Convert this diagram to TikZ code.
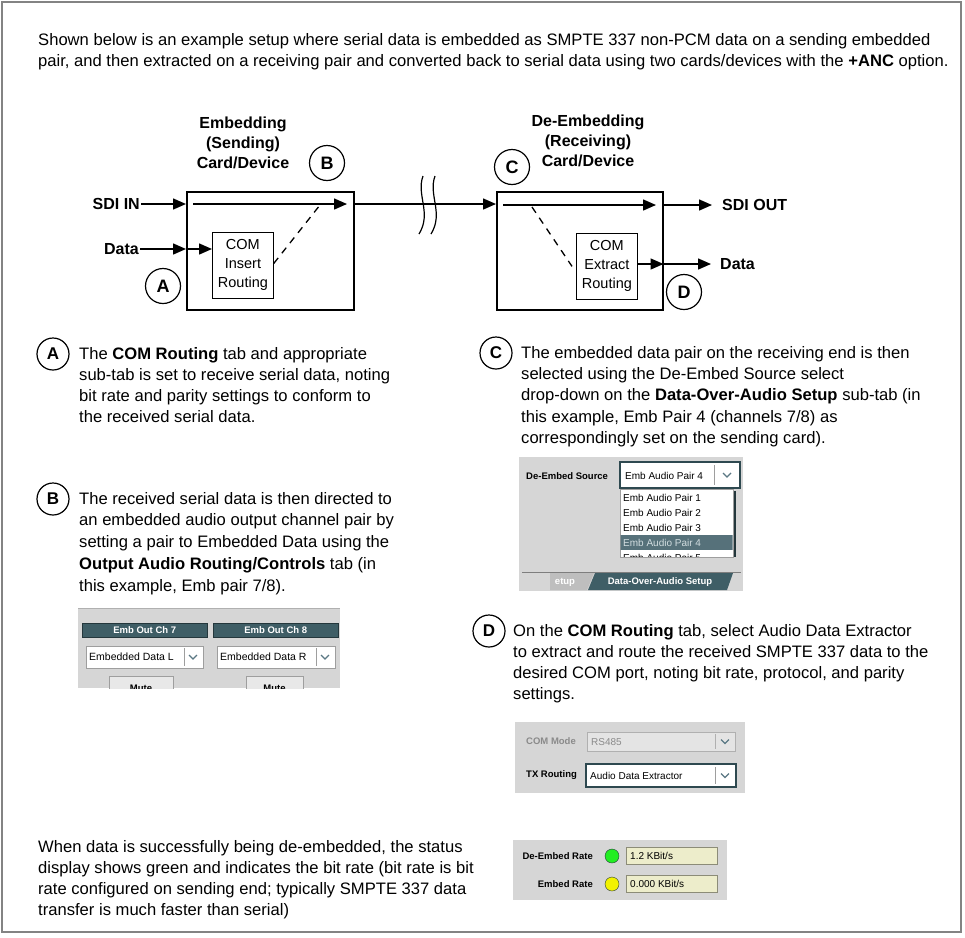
\documentclass[tikz,border=0pt]{standalone}
\usepackage{fontspec}
\setmainfont{Liberation Sans}
\setsansfont{Liberation Sans}
\usetikzlibrary{arrows.meta,positioning}
\definecolor{Ink}{HTML}{000000}
\definecolor{FrameGray}{HTML}{838383}
\definecolor{PanelFill}{HTML}{D6D6D6}
\definecolor{PanelEdge}{HTML}{B0B0B0}
\definecolor{HeadTeal}{HTML}{3F5E66}
\definecolor{HeadEdge}{HTML}{24373C}
\definecolor{FieldEdge}{HTML}{9E9E9E}
\definecolor{FocusEdge}{HTML}{2E4950}
\definecolor{Chevron}{HTML}{5B7884}
\definecolor{PickFill}{HTML}{56717A}
\definecolor{PickText}{HTML}{D2DDE0}
\definecolor{DimText}{HTML}{8A8A8A}
\definecolor{DimFill}{HTML}{E4E4E4}
\definecolor{ButtonFill}{HTML}{E8E8E8}
\definecolor{TabLight}{HTML}{BEBEBE}
\definecolor{TabLine}{HTML}{7E7E7E}
\definecolor{RateFill}{HTML}{EDEDCB}
\definecolor{RateEdge}{HTML}{8C8C78}
\definecolor{LedGreen}{HTML}{22EE22}
\definecolor{LedYellow}{HTML}{F2F200}
\tikzset{
  frame/.style={draw=FrameGray, line width=2pt},
  flow/.style={-{Triangle[length=13pt,width=11pt]}, draw=Ink, line width=1.5pt},
  dashlink/.style={draw=Ink, line width=1.3pt, dash pattern=on 7pt off 6pt},
  breakmark/.style={draw=Ink, line width=1.2pt},
  card/.style={draw=Ink, fill=white, line width=1.5pt, anchor=north west, inner sep=0pt},
  routing/.style={draw=Ink, fill=white, line width=0.8pt, anchor=north west, inner sep=0pt,
    align=center, font=\fontsize{14.5}{19}\selectfont},
  signal/.style={font=\bfseries\fontsize{16}{19}\selectfont, inner sep=1pt},
  cardtitle/.style={font=\bfseries\fontsize{16}{20}\selectfont, align=center, inner sep=0pt},
  marker/.style={circle, draw=Ink, line width=1.2pt, minimum size=35pt, inner sep=0pt,
    font=\bfseries\fontsize{18}{18}\selectfont},
  notemark/.style={marker, minimum size=32pt, font=\bfseries\fontsize{17}{17}\selectfont},
  body/.style={font=\fontsize{16.6}{21}\selectfont, align=left, anchor=north west, inner sep=0pt},
  guitext/.style={font=\fontsize{10}{12}\selectfont, inner sep=0pt, anchor=west},
  guilabel/.style={font=\bfseries\fontsize{9.5}{12}\selectfont, inner sep=0pt},
  header/.style={guilabel, fill=HeadTeal, draw=HeadEdge, text=white, anchor=north west,
    minimum width=125pt, minimum height=14pt},
  field/.style={draw=FieldEdge, fill=white, line width=0.8pt},
  focus/.style={draw=FocusEdge, fill=white, line width=1.5pt},
  chevron/.pic={\draw[Chevron, line width=1.3pt] (-4,-2) -- (0,2) -- (4,-2);},
}

\begin{document}
\begin{tikzpicture}[x=1pt, y=-1pt]
  % Page frame fixes the reference margins.
  \useasboundingbox (0,0) rectangle (965,937);
  \draw[frame] (2,2) rectangle (961,932);

  \node[body] (intro) at (38,33)
    {Shown below is an example setup where serial data is embedded as SMPTE 337 non-PCM data on a sending embedded\\
     pair, and then extracted on a receiving pair and converted back to serial data using two cards/devices with the \textbf{+ANC} option.};

  % Cards, inner routing blocks and their headings.
  \node[card, minimum width=167pt, minimum height=118pt] (sendcard) at (186,191) {};
  \node[card, minimum width=166pt, minimum height=118pt] (recvcard) at (496,191) {};
  \node[routing, minimum width=61pt, minimum height=66pt] (insertbox) at (212,232) {COM\\Insert\\Routing};
  \node[routing, minimum width=61pt, minimum height=66pt] (extractbox) at (576,233) {COM\\Extract\\Routing};
  \node[cardtitle] (sendtitle) at (243,143) {Embedding\\(Sending)\\Card/Device};
  \node[cardtitle] (recvtitle) at (588,141) {De-Embedding\\(Receiving)\\Card/Device};

  \node[signal, anchor=east] (sdiin) at (141,204) {SDI IN};
  \node[signal, anchor=east] (datain) at (140,249) {Data};
  \node[signal, anchor=west] (sdiout) at (721,205) {SDI OUT};
  \node[signal, anchor=west] (dataout) at (719,264) {Data};

  \node[marker] (markA) at (163,286) {A};
  \node[marker] (markB) at (327,163) {B};
  \node[marker] (markC) at (512,167) {C};
  \node[marker] (markD) at (684,292) {D};

  \coordinate (sendpass) at (193,204);
  \coordinate (sendtip) at (347,204);
  \coordinate (sendjoin) at (320,205);
  \coordinate (recvpass) at (503,205);
  \coordinate (recvtip) at (656,205);
  \coordinate (recvsplit) at (532,207);

  % Signal flow.
  \draw[flow] (sdiin.east) -- (sdiin.east -| sendcard.west);
  \draw[flow] (datain.east) -- (datain.east -| sendcard.west);
  \draw[flow] (datain.east -| sendcard.west) -- (insertbox.west |- datain.east);
  \draw[flow] (sendpass) -- (sendtip);
  \draw[dashlink] ([yshift=2pt]insertbox.east) -- (sendjoin);
  \draw[flow] (sendtip -| sendcard.east) -- (sendtip -| recvcard.west);
  \draw[breakmark] (423,176) .. controls (416,195) and (432,213) .. (419,234);
  \draw[breakmark] (435,176) .. controls (428,195) and (444,213) .. (431,234);
  \draw[flow] (recvpass) -- (recvtip);
  \draw[dashlink] (recvsplit) -- ([xshift=-4pt]extractbox.west);
  \draw[flow] (sdiout.west -| recvcard.east) -- ([xshift=-9pt]sdiout.west);
  \draw[flow] (dataout.west -| extractbox.east) -- (dataout.west -| recvcard.east);
  \draw[flow] (dataout.west -| recvcard.east) -- ([xshift=-8pt]dataout.west);

  % Step notes.
  \node[notemark] (noteA) at (53,354) {A};
  \node[body] (textA) at (79,347)
    {The \textbf{COM Routing} tab and appropriate\\sub-tab is set to receive serial data, noting\\
     bit rate and parity settings to conform to\\the received serial data.};
  \node[notemark] (noteB) at (53,499) {B};
  \node[body, font=\fontsize{16.6}{21.7}\selectfont] (textB) at (79,492)
    {The received serial data is then directed to\\an embedded audio output channel pair by\\
     setting a pair to Embedded Data using the\\\textbf{Output Audio Routing/Controls} tab (in\\
     this example, Emb pair 7/8).};
  \node[notemark] (noteC) at (496,353) {C};
  \node[body, font=\fontsize{16.6}{21.3}\selectfont] (textC) at (521,346)
    {The embedded data pair on the receiving end is then\\selected using the De-Embed Source select\\
     drop-down on the \textbf{Data-Over-Audio Setup} sub-tab (in\\this example, Emb Pair 4 (channels 7/8) as\\
     correspondingly set on the sending card).};
  \node[notemark] (noteD) at (489,631) {D};
  \node[body] (textD) at (513,624)
    {On the \textbf{COM Routing} tab, select Audio Data Extractor\\to extract and route the received SMPTE 337 data to the\\
     desired COM port, noting bit rate, protocol, and parity\\settings.};
  \node[body] (textE) at (38,840)
    {When data is successfully being de-embedded, the status\\display shows green and indicates the bit rate (bit rate is bit\\
     rate configured on sending end; typically SMPTE 337 data\\transfer is much faster than serial)};

  % Output audio routing panel.
  \begin{scope}
    \clip (78,607) rectangle (340,688);
    \fill[PanelFill] (78,608) rectangle (340,688);
    \draw[PanelEdge] (78,608.5) -- (340,608.5);
    \node[header] (ch7head) at (82,623) {Emb Out Ch 7};
    \node[header] (ch8head) at (213,623) {Emb Out Ch 8};
    \draw[field] (86,646) rectangle (203,668);
    \draw[FieldEdge] (184,648) -- (184,666);
    \pic at (193,657) {chevron};
    \node[guitext, font=\fontsize{10.5}{12}\selectfont] (ch7pick) at (89,657) {Embedded Data L};
    \draw[field] (217,646) rectangle (335,668);
    \draw[FieldEdge] (316,648) -- (316,666);
    \pic at (325,657) {chevron};
    \node[guitext, font=\fontsize{10.5}{12}\selectfont] (ch8pick) at (220,657) {Embedded Data R};
    \draw[field, fill=ButtonFill] (109,676) rectangle (173,700);
    \node[guilabel] (ch7mute) at (141,688.5) {Mute};
    \draw[field, fill=ButtonFill] (246,676) rectangle (303,700);
    \node[guilabel] (ch8mute) at (274.5,688.5) {Mute};
  \end{scope}

  % De-embed source panel.
  \fill[PanelFill] (519,457) rectangle (743,591);
  \node[guilabel, anchor=west] (srclabel) at (526,476) {De-Embed Source};
  \draw[focus] (620,462) rectangle (740,488);
  \draw[FieldEdge] (714,465) -- (714,485);
  \pic at (727,475) {chevron};
  \node[guitext] (srcpick) at (625,476) {Emb Audio Pair 4};
  \draw[field] (620,489) rectangle (733,557);
  \draw[HeadEdge, line width=1.5pt] (735,491) -- (735,557);
  \begin{scope}
    \clip (620.5,489.5) rectangle (732.5,556.5);
    \fill[PickFill] (620,535) rectangle (733,550);
    \node[guitext] (pair1) at (623,498) {Emb Audio Pair 1};
    \node[guitext] (pair2) at (623,513) {Emb Audio Pair 2};
    \node[guitext] (pair3) at (623,528) {Emb Audio Pair 3};
    \node[guitext, text=PickText] (pair4) at (623,543) {Emb Audio Pair 4};
    \node[guitext] (pair5) at (623,558) {Emb Audio Pair 5};
  \end{scope}
  \draw[TabLine] (522,572) -- (741,572);
  \fill[TabLight] (550,573) -- (594,573) -- (587,590) -- (550,590) -- cycle;
  \node[guilabel, text=white] (tabsetup) at (565,582) {etup};
  \fill[HeadTeal] (595,573) -- (733,573) -- (727,590) -- (588,590) -- cycle;
  \node[guilabel, text=white] (tabdoa) at (660,582) {Data-Over-Audio Setup};

  % COM routing panel.
  \fill[PanelFill] (515,722) rectangle (745,793);
  \node[guilabel, anchor=west, text=DimText] (modelabel) at (526,741) {COM Mode};
  \draw[field, fill=DimFill, draw=PanelEdge] (587,732) rectangle (735,751);
  \draw[PanelEdge] (715,734) -- (715,749);
  \pic[Chevron!40] at (725,741.5) {chevron};
  \node[guitext, text=DimText] (modepick) at (591,742) {RS485};
  \node[guilabel, anchor=west] (txlabel) at (526,775) {TX Routing};
  \draw[focus] (586,764) rectangle (736,787);
  \draw[FieldEdge] (715,767) -- (715,784);
  \pic at (725,775.5) {chevron};
  \node[guitext] (txpick) at (590,776) {Audio Data Extractor};

  % Status panel.
  \fill[PanelFill] (513,840) rectangle (727,900);
  \node[guilabel, anchor=east] (derate) at (593,856) {De-Embed Rate};
  \node[circle, draw=HeadEdge, fill=LedGreen, minimum size=14pt, inner sep=0pt] (derateled) at (612,856) {};
  \node[draw=RateEdge, fill=RateFill, anchor=west, minimum width=91pt, minimum height=17pt] (deratebox) at (626,856) {};
  \node[guitext] (deratevalue) at (630,856) {1.2 KBit/s};
  \node[guilabel, anchor=east] (emrate) at (593,884) {Embed Rate};
  \node[circle, draw=HeadEdge, fill=LedYellow, minimum size=14pt, inner sep=0pt] (emrateled) at (612,884) {};
  \node[draw=RateEdge, fill=RateFill, anchor=west, minimum width=91pt, minimum height=17pt] (emratebox) at (626,884) {};
  \node[guitext] (emratevalue) at (630,884) {0.000 KBit/s};
\end{tikzpicture}
\end{document}
